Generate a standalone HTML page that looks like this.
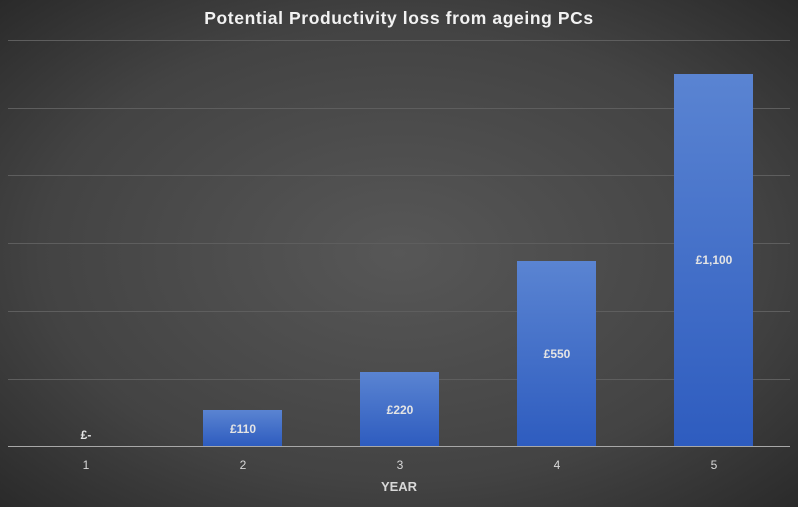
<!DOCTYPE html>
<html><head><style>
html,body{margin:0;padding:0;}
body{width:798px;height:507px;overflow:hidden;}
svg text{font-family:"Liberation Sans",sans-serif;}
</style></head><body>
<svg width="798" height="507" xmlns="http://www.w3.org/2000/svg">
<defs>
<radialGradient id="bg" cx="0.5" cy="0.5" r="0.75">
<stop offset="0" stop-color="#575757"/>
<stop offset="0.6" stop-color="#434343"/>
<stop offset="1" stop-color="#262626"/>
</radialGradient>
<linearGradient id="bar" x1="0" y1="0" x2="0" y2="1">
<stop offset="0" stop-color="#5a84d2"/>
<stop offset="1" stop-color="#2e5cbf"/>
</linearGradient>
</defs>
<rect width="798" height="507" fill="url(#bg)"/>
<text x="399" y="24" fill="#f2f2f2" font-size="17.5" font-weight="bold" text-anchor="middle" letter-spacing="0.6">Potential Productivity loss from ageing PCs</text>
<g stroke="#5e5e5e" stroke-width="1">
<line x1="8" x2="790" y1="40.5" y2="40.5"/>
<line x1="8" x2="790" y1="108.5" y2="108.5"/>
<line x1="8" x2="790" y1="175.5" y2="175.5"/>
<line x1="8" x2="790" y1="243.5" y2="243.5"/>
<line x1="8" x2="790" y1="311.5" y2="311.5"/>
<line x1="8" x2="790" y1="379.5" y2="379.5"/>
</g>
<rect x="203" y="410" width="79" height="36" fill="url(#bar)"/>
<rect x="360" y="372" width="79" height="74" fill="url(#bar)"/>
<rect x="517" y="261" width="79" height="185" fill="url(#bar)"/>
<rect x="674" y="74" width="79" height="372" fill="url(#bar)"/>
<line x1="8" x2="790" y1="446.5" y2="446.5" stroke="#a8a8a8" stroke-width="1"/>
<g fill="#e4e4e4" font-size="12" font-weight="bold" text-anchor="middle">
<text x="86" y="439">£-</text>
<text x="243" y="433">£110</text>
<text x="400" y="414">£220</text>
<text x="557" y="358">£550</text>
<text x="714" y="264">£1,100</text>
</g>
<g fill="#d8d8d8" font-size="12" text-anchor="middle">
<text x="86" y="469">1</text>
<text x="243" y="469">2</text>
<text x="400" y="469">3</text>
<text x="557" y="469">4</text>
<text x="714" y="469">5</text>
</g>
<text x="399" y="491" fill="#d8d8d8" font-size="13" font-weight="bold" text-anchor="middle">YEAR</text>
</svg>
</body></html>
